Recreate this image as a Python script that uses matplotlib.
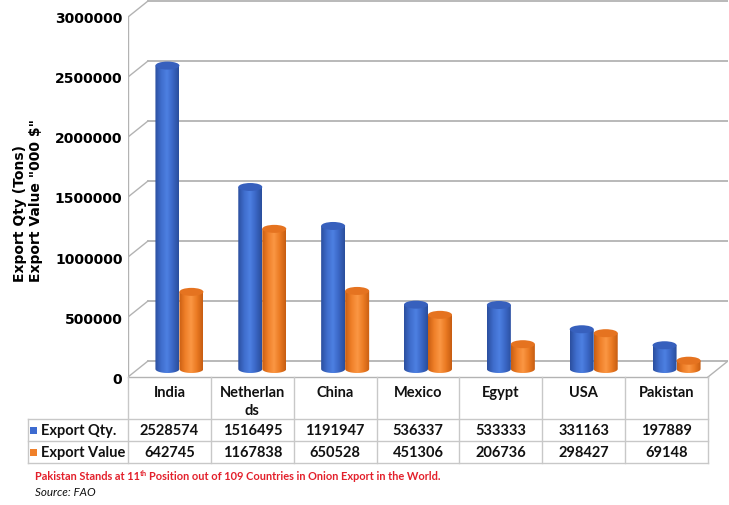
import numpy as np
import matplotlib
matplotlib.use("Agg")
from matplotlib import pyplot as plt
from matplotlib.path import Path
from matplotlib.patches import PathPatch, Ellipse, Rectangle
from matplotlib.colors import LinearSegmentedColormap

# data
countries = ['India', 'Netherlands', 'China', 'Mexico', 'Egypt', 'USA', 'Pakistan']
export_qty = [2528574, 1516495, 1191947, 536337, 533333, 331163, 197889]
export_value = [642745, 1167838, 650528, 451306, 206736, 298427, 69148]
series_names = ['Export Qty.', 'Export Value']
yticks = [0, 500000, 1000000, 1500000, 2000000, 2500000, 3000000]

W, H = 729, 506
fig = plt.figure(figsize=(W/100, H/100), dpi=100)

# chart area in pixels: x 128..728, y 0..378 (value 0 at 378, 3000000 at 18)
px_per_val = 360/3000000
ymax = 378/px_per_val
cat_px = 580/7
xmax = 600/cat_px
ax = fig.add_axes([128/W, 1-378/H, 600/W, 378/H])
ax.set_xlim(0, xmax)
ax.set_ylim(0, ymax)
for s in ax.spines.values():
    s.set_visible(False)
ax.set_xticks([])
ax.set_yticks(yticks)
ax.set_yticklabels([str(t) for t in yticks], fontsize=10, fontweight='bold', family='DejaVu Sans')
ax.tick_params(axis='y', length=0, pad=4)
ax.patch.set_visible(False)

DX = 20/cat_px         # depth offset, x
DY = 16/px_per_val     # depth offset, y
gc = '#b3b3b3'

# back wall gridlines + side diagonals
for t in yticks:
    ax.plot([DX, xmax], [t+DY, t+DY], color=gc, lw=1.3, zorder=1)
    ax.plot([0, DX], [t, t+DY], color=gc, lw=1.0, zorder=1)
ax.plot([0, 0], [0, yticks[-1]], color=gc, lw=1.0, zorder=1)
# floor
ax.plot([7, 7+DX], [0, DY], color=gc, lw=1.0, zorder=1)

# cylinders
bw = 24/cat_px
eh = 8/px_per_val
cmaps = [
    LinearSegmentedColormap.from_list('b', ['#2b4f9f', '#3f6dcc', '#4d80e2', '#3a66c4', '#2a4e9c']),
    LinearSegmentedColormap.from_list('o', ['#c95e12', '#ef7f28', '#fb9744', '#ea7a22', '#c75d12']),
]
topc = ['#3760bd', '#e57320']
grad = np.linspace(0, 1, 64).reshape(1, -1)
theta = np.linspace(np.pi, 2*np.pi, 40)

for si, vals in enumerate([export_qty, export_value]):
    for i, v in enumerate(vals):
        cx = i + 0.5 + DX/2 + (si - 0.5)*bw
        y0 = DY/2
        y1 = v + DY/2
        xl, xr = cx - bw/2, cx + bw/2
        # body outline: sides, top, bottom half ellipse
        bx = np.concatenate([[xr, xr, xl, xl], cx + bw/2*np.cos(theta)])
        by = np.concatenate([[y0, y1, y1, y0], y0 + eh/2*np.sin(theta)])
        path = Path(np.column_stack([bx, by]), closed=False)
        body = PathPatch(path, facecolor='none', edgecolor='none', zorder=3)
        ax.add_patch(body)
        im = ax.imshow(grad, cmap=cmaps[si], extent=[xl, xr, y0-eh/2, y1], aspect='auto',
                       origin='lower', zorder=3, interpolation='bilinear')
        im.set_clip_path(body)
        ax.add_patch(Ellipse((cx, y1), bw, eh, facecolor=topc[si], edgecolor='none', zorder=4))
ax.set_xlim(0, xmax)
ax.set_ylim(0, ymax)

# overlay in pixel coordinates for table and notes
ov = fig.add_axes([0, 0, 1, 1])
ov.set_xlim(0, W)
ov.set_ylim(H, 0)
ov.axis('off')
ov.patch.set_visible(False)

tc = '#c8c8c8'
cols = [128 + cat_px*i for i in range(8)]
ov.plot([128, 708], [378, 378], color=gc, lw=1.0)
for yy in [420, 442, 464]:
    ov.plot([28, 708], [yy, yy], color=tc, lw=1.0)
ov.plot([28, 28], [420, 464], color=tc, lw=1.0)
for xx in cols:
    ov.plot([xx, xx], [378, 464], color=tc, lw=1.0)

tf = dict(family='Lato', fontweight='bold', fontsize=10.5, color='#111111')


def wrap(s, n=9):
    return s if len(s) <= n else s[:n] + '\n' + s[n:]


for i, c in enumerate(countries):
    xc = (cols[i] + cols[i+1])/2
    ov.text(xc, 386, wrap(c), ha='center', va='top', linespacing=1.35, **tf)
    ov.text(xc, 431, str(export_qty[i]), ha='center', va='center', **tf)
    ov.text(xc, 453, str(export_value[i]), ha='center', va='center', **tf)

legc = ['#3d6bd0', '#f0802a']
for r, (name, col) in enumerate(zip(series_names, legc)):
    yc = 431 + 22*r
    ov.add_patch(Rectangle((30, yc-3.5), 7, 7, facecolor=col, edgecolor='none'))
    ov.text(41, yc, name, ha='left', va='center', **tf)

# y label
fig.text(28/W, 1-201/H, 'Export Qty (Tons)\nExport Value "000 $"', rotation=90,
         ha='center', va='center', multialignment='left', fontsize=10,
         fontweight='bold', family='DejaVu Sans', linespacing=1.1)

# footnote with superscript
red = '#e3202b'
fig.canvas.draw()
r = fig.canvas.get_renderer()
fs = 7.9
t1 = ov.text(35, 480, 'Pakistan Stands at 11', ha='left', va='baseline', fontsize=fs,
             fontweight='bold', family='Lato', color=red)
bb = t1.get_window_extent(r)
t2 = fig.text(bb.x1/W, (H-480+4)/H, 'th', ha='left', va='baseline', fontsize=5.3,
              fontweight='bold', family='Lato', color=red)
bb2 = t2.get_window_extent(r)
fig.text((bb2.x1+2)/W, (H-480)/H, 'Position out of 109 Countries in Onion Export in the World.',
         ha='left', va='baseline', fontsize=fs, fontweight='bold', family='Lato', color=red)
ov.text(35, 496, 'Source: FAO', ha='left', va='baseline', fontsize=8.4, style='italic',
        family='Lato', color='#111111')

fig.savefig('out.png', dpi=100)
